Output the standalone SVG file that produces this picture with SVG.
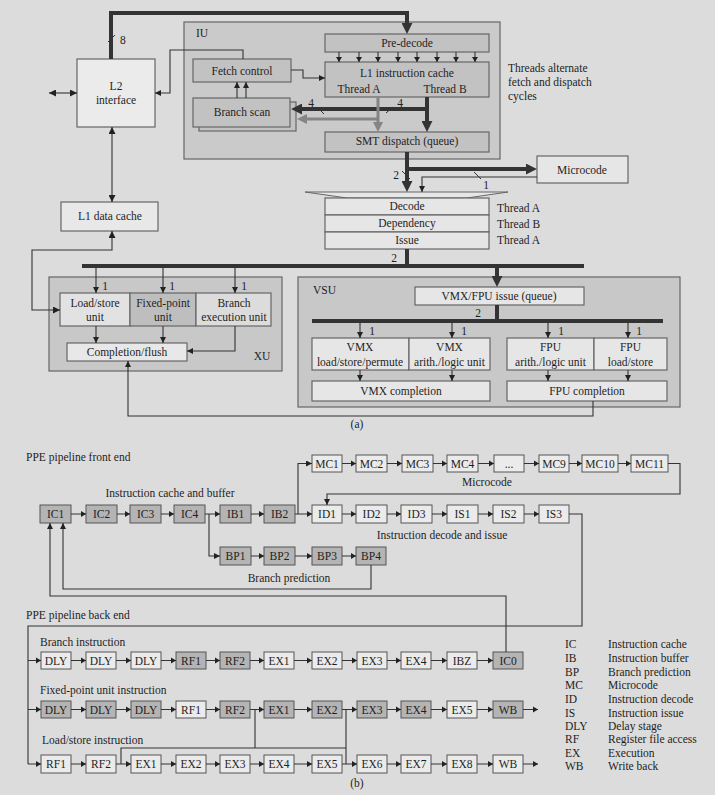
<svg xmlns="http://www.w3.org/2000/svg" width="715" height="795" viewBox="0 0 715 795" font-family="'Liberation Serif', 'DejaVu Serif', serif">
<style>
.t{font-family:'Liberation Serif','Times New Roman','DejaVu Serif',serif;font-size:11.5px;fill:#1e1e1e}
.m{text-anchor:middle}
.bx{stroke:#666;stroke-width:1.2}
.pb{stroke:#555;stroke-width:1}
.dk{fill:#b4b4b4}
.lt{fill:#ebebeb}
.ln{fill:none;stroke:#333;stroke-width:1.1}
.thk{fill:none;stroke:#333;stroke-width:4}
.gry{fill:none;stroke:#858585;stroke-width:3}
</style>
<defs>
<marker id="a" viewBox="0 0 10 10" refX="10" refY="5" markerWidth="6" markerHeight="6" markerUnits="userSpaceOnUse" orient="auto"><path d="M0,0 L10,5 L0,10 z" fill="#222"/></marker>
<marker id="a2" viewBox="0 0 10 10" refX="10" refY="5" markerWidth="7" markerHeight="7" markerUnits="userSpaceOnUse" orient="auto-start-reverse"><path d="M0,0 L10,5 L0,10 z" fill="#222"/></marker>
<marker id="at" viewBox="0 0 10 10" refX="1" refY="5" markerWidth="11" markerHeight="11" markerUnits="userSpaceOnUse" orient="auto"><path d="M0,0 L10,5 L0,10 z" fill="#333"/></marker>
<marker id="ag" viewBox="0 0 10 10" refX="1" refY="5" markerWidth="10" markerHeight="10" markerUnits="userSpaceOnUse" orient="auto"><path d="M0,0 L10,5 L0,10 z" fill="#858585"/></marker>
</defs>
<rect width="715" height="795" fill="#dcdcdc"/>

<!-- (a) nodes -->
<g id="n-iu"><rect x="184" y="22" width="316" height="137" fill="#cacaca" class="bx"/><text x="196" y="37" class="t">IU</text></g>
<g id="n-l2"><rect x="77" y="59" width="78" height="68" fill="#ebebeb" class="bx"/><text x="116" y="90" class="t m">L2</text><text x="116" y="104" class="t m">interface</text></g>
<g id="n-predecode"><rect x="325" y="34" width="164" height="18" fill="#c2c2c2" class="bx"/><text x="407" y="47" class="t m">Pre-decode</text></g>
<g id="n-l1ic"><rect x="325" y="62" width="164" height="35" fill="#c2c2c2" class="bx"/><text x="407" y="77" class="t m">L1 instruction cache</text><text x="359" y="93" class="t m">Thread A</text><text x="445" y="93" class="t m">Thread B</text></g>
<g id="n-fetch"><rect x="193" y="59" width="98" height="23" fill="#c2c2c2" class="bx"/><text x="242" y="75" class="t m">Fetch control</text></g>
<g id="n-bscan"><rect x="199" y="102" width="97" height="29" fill="#c2c2c2" class="bx"/><rect x="193" y="98" width="97" height="29" fill="#c2c2c2" class="bx"/><text x="242" y="116" class="t m">Branch scan</text></g>
<g id="n-smt"><rect x="325" y="132" width="164" height="20" fill="#c2c2c2" class="bx"/><text x="407" y="145" class="t m">SMT dispatch (queue)</text></g>
<g id="n-note"><text x="508" y="72" class="t">Threads alternate</text><text x="508" y="86" class="t">fetch and dispatch</text><text x="508" y="100" class="t">cycles</text></g>
<g id="n-micro"><rect x="537" y="156" width="91" height="27" fill="#e6e6e6" class="bx"/><text x="582" y="174" class="t m">Microcode</text></g>
<g id="n-decode">
<polygon points="305,192 508,192 467,198 347,198" fill="#e6e6e6" stroke="#666" stroke-width="1"/>
<rect x="325" y="198" width="164" height="17" fill="#e6e6e6" class="bx"/><text x="407" y="210" class="t m">Decode</text>
<rect x="325" y="215" width="164" height="17" fill="#e6e6e6" class="bx"/><text x="407" y="227" class="t m">Dependency</text>
<rect x="325" y="232" width="164" height="17" fill="#e6e6e6" class="bx"/><text x="407" y="244" class="t m">Issue</text>
<text x="497" y="212" class="t">Thread A</text><text x="497" y="228" class="t">Thread B</text><text x="497" y="244" class="t">Thread A</text>
</g>
<g id="n-l1dc"><rect x="61" y="202" width="97" height="29" fill="#e8e8e8" class="bx"/><text x="110" y="220" class="t m">L1 data cache</text></g>
<g id="n-xu"><rect x="49" y="277" width="233" height="94" fill="#c8c8c8" class="bx"/><text x="262" y="360" class="t m">XU</text></g>
<g id="n-ls"><rect x="60" y="293" width="70" height="33" fill="#e2e2e2" class="bx"/><text x="95" y="307" class="t m">Load/store</text><text x="95" y="321" class="t m">unit</text></g>
<g id="n-fxu"><rect x="130" y="293" width="66" height="33" fill="#bebebe" class="bx"/><text x="163" y="307" class="t m">Fixed-point</text><text x="163" y="321" class="t m">unit</text></g>
<g id="n-bru"><rect x="196" y="293" width="75" height="33" fill="#dcdcdc" class="bx"/><text x="234" y="307" class="t m">Branch</text><text x="234" y="321" class="t m">execution unit</text></g>
<g id="n-compl"><rect x="67" y="343" width="120" height="18" fill="#e8e8e8" class="bx"/><text x="127" y="356" class="t m">Completion/flush</text></g>
<g id="n-vsu"><rect x="298" y="277" width="382" height="130" fill="#c8c8c8" class="bx"/><text x="313" y="294" class="t">VSU</text></g>
<g id="n-vmxq"><rect x="415" y="287" width="169" height="18" fill="#e6e6e6" class="bx"/><text x="499" y="300" class="t m">VMX/FPU issue (queue)</text></g>
<g id="n-vmxls"><rect x="312" y="338" width="97" height="32" fill="#e6e6e6" class="bx"/><text x="360" y="351" class="t m">VMX</text><text x="360" y="366" class="t m">load/store/permute</text></g>
<g id="n-vmxalu"><rect x="409" y="338" width="81" height="32" fill="#e6e6e6" class="bx"/><text x="449.5" y="351" class="t m">VMX</text><text x="449.5" y="366" class="t m">arith./logic unit</text></g>
<g id="n-fpualu"><rect x="507" y="338" width="87" height="32" fill="#e6e6e6" class="bx"/><text x="550.5" y="351" class="t m">FPU</text><text x="550.5" y="366" class="t m">arith./logic unit</text></g>
<g id="n-fpuls"><rect x="594" y="338" width="73" height="32" fill="#e6e6e6" class="bx"/><text x="630.5" y="351" class="t m">FPU</text><text x="630.5" y="366" class="t m">load/store</text></g>
<g id="n-vmxc"><rect x="312" y="381" width="178" height="20" fill="#e6e6e6" class="bx"/><text x="401" y="395" class="t m">VMX completion</text></g>
<g id="n-fpuc"><rect x="507" y="381" width="160" height="20" fill="#e6e6e6" class="bx"/><text x="587" y="395" class="t m">FPU completion</text></g>
<text x="357" y="428" class="t m">(a)</text>

<!-- (a) connectors -->
<g id="connectors-a">
<path d="M111,59 V13 H407 V24" class="thk" marker-end="url(#at)"/>
<line x1="108" y1="42" x2="115" y2="35" stroke="#333" stroke-width="1"/>
<text x="120" y="44" class="t">8</text>
<path d="M49,93 H77" class="ln" marker-start="url(#a2)" marker-end="url(#a2)"/>
<path d="M112,127 V202" class="ln" marker-start="url(#a2)" marker-end="url(#a2)"/>
<path d="M243,59 V50 H170 V93 H155" class="ln" marker-end="url(#a)"/>
<path d="M291,70 H303 V78 H325" class="ln" marker-end="url(#a)"/>
<path d="M237,98 V82" class="ln" marker-end="url(#a)"/>
<path d="M246,98 V82" class="ln" marker-end="url(#a)"/>
<path d="M339,52 V62 M359,52 V62 M378,52 V62 M398,52 V62 M417,52 V62 M437,52 V62 M456,52 V62 M475,52 V62" class="ln"/>
<g fill="#222">
<path d="M336,57 L342,57 L339,62 z"/><path d="M356,57 L362,57 L359,62 z"/><path d="M375,57 L381,57 L378,62 z"/><path d="M395,57 L401,57 L398,62 z"/><path d="M414,57 L420,57 L417,62 z"/><path d="M434,57 L440,57 L437,62 z"/><path d="M453,57 L459,57 L456,62 z"/><path d="M472,57 L478,57 L475,62 z"/>
</g>
<path d="M427,109 H301" class="thk" marker-end="url(#at)"/>
<path d="M378,97 V123" class="gry" marker-end="url(#ag)"/>
<path d="M378,119 H306" class="gry" marker-end="url(#ag)"/>
<path d="M427,97 V122" class="thk" marker-end="url(#at)"/>
<line x1="318" y1="108" x2="324" y2="114" stroke="#333" stroke-width="1"/>
<text x="311" y="107" class="t m">4</text>
<line x1="386" y1="113" x2="393" y2="107" stroke="#333" stroke-width="1"/>
<text x="400" y="107" class="t m">4</text>
<path d="M407,152 V182" class="thk" marker-end="url(#at)"/>
<path d="M407,169 H527" class="thk" marker-end="url(#at)"/>
<line x1="402" y1="171" x2="410" y2="179" stroke="#333" stroke-width="1"/>
<text x="396" y="179" class="t m">2</text>
<path d="M537,177 H422 V192" class="ln" marker-end="url(#a)"/>
<line x1="474" y1="172" x2="481" y2="179" stroke="#333" stroke-width="1"/>
<text x="486" y="189" class="t m">1</text>
<path d="M407,249 V266" class="thk"/>
<text x="394" y="262" class="t m">2</text>
<path d="M82,266 H584" class="thk"/>
<path d="M96,266 V293" class="ln" marker-end="url(#a)"/>
<path d="M163,266 V293" class="ln" marker-end="url(#a)"/>
<path d="M235,266 V293" class="ln" marker-end="url(#a)"/>
<text x="105" y="290" class="t m">1</text><text x="172" y="290" class="t m">1</text><text x="244" y="290" class="t m">1</text>
<path d="M497,266 V277" class="thk" marker-end="url(#at)"/>
<path d="M112,231 V250 H32 V310 H60" class="ln" marker-start="url(#a2)" marker-end="url(#a2)"/>
<path d="M96,326 V343" class="ln" marker-end="url(#a)"/>
<path d="M163,326 V343" class="ln" marker-end="url(#a)"/>
<path d="M235,326 V351 H187" class="ln" marker-end="url(#a)"/>
<path d="M497,305 V321" class="thk"/>
<text x="478" y="317" class="t m">2</text>
<path d="M312,321 H663" class="thk"/>
<path d="M360,321 V338" class="ln" marker-end="url(#a)"/>
<path d="M452,321 V338" class="ln" marker-end="url(#a)"/>
<path d="M548,321 V338" class="ln" marker-end="url(#a)"/>
<path d="M628,321 V338" class="ln" marker-end="url(#a)"/>
<text x="372" y="335" class="t m">1</text><text x="464" y="335" class="t m">1</text><text x="561" y="335" class="t m">1</text><text x="639" y="335" class="t m">1</text>
<path d="M360,370 V381" class="ln" marker-end="url(#a)"/>
<path d="M452,370 V381" class="ln" marker-end="url(#a)"/>
<path d="M548,370 V381" class="ln" marker-end="url(#a)"/>
<path d="M628,370 V381" class="ln" marker-end="url(#a)"/>
<path d="M593,401 V416 H128 V361" class="ln" marker-end="url(#a)"/>
</g>

<!-- (b) front end -->
<text x="26" y="461" class="t">PPE pipeline front end</text>
<text x="170" y="497" class="t m">Instruction cache and buffer</text>
<text x="487" y="486" class="t m">Microcode</text>
<text x="442" y="539" class="t m">Instruction decode and issue</text>
<text x="289" y="582" class="t m">Branch prediction</text>

<g id="p-ic1"><rect x="40" y="505" width="31" height="18" class="pb dk"/><text x="55.5" y="518" class="t m">IC1</text></g>
<g id="p-ic2"><rect x="86" y="505" width="31" height="18" class="pb dk"/><text x="101.5" y="518" class="t m">IC2</text></g>
<g id="p-ic3"><rect x="130" y="505" width="31" height="18" class="pb dk"/><text x="145.5" y="518" class="t m">IC3</text></g>
<g id="p-ic4"><rect x="174" y="505" width="31" height="18" class="pb dk"/><text x="189.5" y="518" class="t m">IC4</text></g>
<g id="p-ib1"><rect x="220" y="505" width="31" height="18" class="pb dk"/><text x="235.5" y="518" class="t m">IB1</text></g>
<g id="p-ib2"><rect x="264" y="505" width="31" height="18" class="pb dk"/><text x="279.5" y="518" class="t m">IB2</text></g>
<g id="p-id1"><rect x="312" y="505" width="30" height="18" class="pb lt"/><text x="327" y="518" class="t m">ID1</text></g>
<g id="p-id2"><rect x="356" y="505" width="31" height="18" class="pb lt"/><text x="371.5" y="518" class="t m">ID2</text></g>
<g id="p-id3"><rect x="401" y="505" width="31" height="18" class="pb lt"/><text x="416.5" y="518" class="t m">ID3</text></g>
<g id="p-is1"><rect x="447" y="505" width="31" height="18" class="pb lt"/><text x="462.5" y="518" class="t m">IS1</text></g>
<g id="p-is2"><rect x="493" y="505" width="31" height="18" class="pb lt"/><text x="508.5" y="518" class="t m">IS2</text></g>
<g id="p-is3"><rect x="539" y="505" width="30" height="18" class="pb lt"/><text x="554" y="518" class="t m">IS3</text></g>

<g id="p-mc1"><rect x="312" y="455" width="30" height="17" class="pb lt"/><text x="327" y="467.5" class="t m">MC1</text></g>
<g id="p-mc2"><rect x="356" y="455" width="31" height="17" class="pb lt"/><text x="371.5" y="467.5" class="t m">MC2</text></g>
<g id="p-mc3"><rect x="402" y="455" width="31" height="17" class="pb lt"/><text x="417.5" y="467.5" class="t m">MC3</text></g>
<g id="p-mc4"><rect x="447" y="455" width="31" height="17" class="pb lt"/><text x="462.5" y="467.5" class="t m">MC4</text></g>
<g id="p-mcx"><rect x="494" y="455" width="30" height="17" class="pb lt"/><text x="509" y="467.5" class="t m">...</text></g>
<g id="p-mc9"><rect x="539" y="455" width="30" height="17" class="pb lt"/><text x="554" y="467.5" class="t m">MC9</text></g>
<g id="p-mc10"><rect x="582" y="455" width="36" height="17" class="pb lt"/><text x="600" y="467.5" class="t m">MC10</text></g>
<g id="p-mc11"><rect x="631" y="455" width="37" height="17" class="pb lt"/><text x="649.5" y="467.5" class="t m">MC11</text></g>

<g id="p-bp1"><rect x="220" y="547" width="31" height="18" class="pb dk"/><text x="235.5" y="560" class="t m">BP1</text></g>
<g id="p-bp2"><rect x="264" y="547" width="31" height="18" class="pb dk"/><text x="279.5" y="560" class="t m">BP2</text></g>
<g id="p-bp3"><rect x="312" y="547" width="30" height="18" class="pb dk"/><text x="327" y="560" class="t m">BP3</text></g>
<g id="p-bp4"><rect x="356" y="547" width="30" height="18" class="pb dk"/><text x="371" y="560" class="t m">BP4</text></g>

<!-- (b) back end -->
<text x="26" y="619" class="t">PPE pipeline back end</text>
<text x="40" y="646" class="t">Branch instruction</text>
<text x="40" y="694" class="t">Fixed-point unit instruction</text>
<text x="42" y="744" class="t">Load/store instruction</text>

<g id="p-r1-1"><rect x="41" y="652" width="30" height="17" class="pb lt"/><text x="56" y="665" class="t m">DLY</text></g>
<g id="p-r1-2"><rect x="86" y="652" width="30" height="17" class="pb lt"/><text x="101" y="665" class="t m">DLY</text></g>
<g id="p-r1-3"><rect x="131" y="652" width="30" height="17" class="pb lt"/><text x="146" y="665" class="t m">DLY</text></g>
<g id="p-r1-4"><rect x="176" y="652" width="30" height="17" class="pb dk"/><text x="191" y="665" class="t m">RF1</text></g>
<g id="p-r1-5"><rect x="220" y="652" width="30" height="17" class="pb dk"/><text x="235" y="665" class="t m">RF2</text></g>
<g id="p-r1-6"><rect x="264" y="652" width="30" height="17" class="pb lt"/><text x="279" y="665" class="t m">EX1</text></g>
<g id="p-r1-7"><rect x="312" y="652" width="30" height="17" class="pb lt"/><text x="327" y="665" class="t m">EX2</text></g>
<g id="p-r1-8"><rect x="357" y="652" width="30" height="17" class="pb lt"/><text x="372" y="665" class="t m">EX3</text></g>
<g id="p-r1-9"><rect x="401" y="652" width="30" height="17" class="pb lt"/><text x="416" y="665" class="t m">EX4</text></g>
<g id="p-r1-10"><rect x="447" y="652" width="30" height="17" class="pb lt"/><text x="462" y="665" class="t m">IBZ</text></g>
<g id="p-r1-11"><rect x="493" y="652" width="30" height="17" class="pb dk"/><text x="508" y="665" class="t m">IC0</text></g>

<g id="p-r2-1"><rect x="41" y="701" width="30" height="17" class="pb dk"/><text x="56" y="713.5" class="t m">DLY</text></g>
<g id="p-r2-2"><rect x="86" y="701" width="30" height="17" class="pb dk"/><text x="101" y="713.5" class="t m">DLY</text></g>
<g id="p-r2-3"><rect x="131" y="701" width="30" height="17" class="pb dk"/><text x="146" y="713.5" class="t m">DLY</text></g>
<g id="p-r2-4"><rect x="176" y="701" width="30" height="17" class="pb lt"/><text x="191" y="713.5" class="t m">RF1</text></g>
<g id="p-r2-5"><rect x="220" y="701" width="30" height="17" class="pb dk"/><text x="235" y="713.5" class="t m">RF2</text></g>
<g id="p-r2-6"><rect x="264" y="701" width="30" height="17" class="pb dk"/><text x="279" y="713.5" class="t m">EX1</text></g>
<g id="p-r2-7"><rect x="312" y="701" width="30" height="17" class="pb dk"/><text x="327" y="713.5" class="t m">EX2</text></g>
<g id="p-r2-8"><rect x="357" y="701" width="30" height="17" class="pb dk"/><text x="372" y="713.5" class="t m">EX3</text></g>
<g id="p-r2-9"><rect x="401" y="701" width="30" height="17" class="pb dk"/><text x="416" y="713.5" class="t m">EX4</text></g>
<g id="p-r2-10"><rect x="447" y="701" width="30" height="17" class="pb lt"/><text x="462" y="713.5" class="t m">EX5</text></g>
<g id="p-r2-11"><rect x="493" y="701" width="30" height="17" class="pb dk"/><text x="508" y="713.5" class="t m">WB</text></g>

<g id="p-r3-1"><rect x="41" y="755" width="30" height="18" class="pb lt"/><text x="56" y="768" class="t m">RF1</text></g>
<g id="p-r3-2"><rect x="86" y="755" width="30" height="18" class="pb lt"/><text x="101" y="768" class="t m">RF2</text></g>
<g id="p-r3-3"><rect x="131" y="755" width="30" height="18" class="pb lt"/><text x="146" y="768" class="t m">EX1</text></g>
<g id="p-r3-4"><rect x="176" y="755" width="30" height="18" class="pb lt"/><text x="191" y="768" class="t m">EX2</text></g>
<g id="p-r3-5"><rect x="220" y="755" width="30" height="18" class="pb lt"/><text x="235" y="768" class="t m">EX3</text></g>
<g id="p-r3-6"><rect x="264" y="755" width="30" height="18" class="pb lt"/><text x="279" y="768" class="t m">EX4</text></g>
<g id="p-r3-7"><rect x="312" y="755" width="30" height="18" class="pb lt"/><text x="327" y="768" class="t m">EX5</text></g>
<g id="p-r3-8"><rect x="357" y="755" width="30" height="18" class="pb lt"/><text x="372" y="768" class="t m">EX6</text></g>
<g id="p-r3-9"><rect x="401" y="755" width="30" height="18" class="pb lt"/><text x="416" y="768" class="t m">EX7</text></g>
<g id="p-r3-10"><rect x="447" y="755" width="30" height="18" class="pb lt"/><text x="462" y="768" class="t m">EX8</text></g>
<g id="p-r3-11"><rect x="493" y="755" width="30" height="18" class="pb lt"/><text x="508" y="768" class="t m">WB</text></g>
<text x="357" y="787" class="t m">(b)</text>

<g id="legend">
<text x="565" y="648" class="t">IC</text><text x="608" y="648" class="t">Instruction cache</text>
<text x="565" y="662" class="t">IB</text><text x="608" y="662" class="t">Instruction buffer</text>
<text x="565" y="676" class="t">BP</text><text x="608" y="676" class="t">Branch prediction</text>
<text x="565" y="689" class="t">MC</text><text x="608" y="689" class="t">Microcode</text>
<text x="565" y="703" class="t">ID</text><text x="608" y="703" class="t">Instruction decode</text>
<text x="565" y="717" class="t">IS</text><text x="608" y="717" class="t">Instruction issue</text>
<text x="565" y="730" class="t">DLY</text><text x="608" y="730" class="t">Delay stage</text>
<text x="565" y="743" class="t">RF</text><text x="608" y="743" class="t">Register file access</text>
<text x="565" y="757" class="t">EX</text><text x="608" y="757" class="t">Execution</text>
<text x="565" y="770" class="t">WB</text><text x="608" y="770" class="t">Write back</text>
</g>

<!-- (b) connectors -->
<g id="connectors-b">
<path d="M71,514 H86 M117,514 H130 M161,514 H174 M205,514 H220 M251,514 H264 M295,514 H312 M342,514 H356 M387,514 H401 M432,514 H447 M478,514 H493 M524,514 H539" class="ln"/>
<path d="M298,514 V463.5 H312" class="ln" marker-end="url(#a)"/>
<path d="M209,514 V556 H220" class="ln" marker-end="url(#a)"/>
<path d="M342,463.5 H356 M387,463.5 H402 M433,463.5 H447 M478,463.5 H494 M524,463.5 H539 M569,463.5 H582 M618,463.5 H631 M251,556 H264 M295,556 H312 M342,556 H356" class="ln"/>
<g fill="#222">
<path d="M81,511 L86,514 L81,517 z"/><path d="M125,511 L130,514 L125,517 z"/><path d="M169,511 L174,514 L169,517 z"/><path d="M215,511 L220,514 L215,517 z"/><path d="M259,511 L264,514 L259,517 z"/><path d="M307,511 L312,514 L307,517 z"/><path d="M351,511 L356,514 L351,517 z"/><path d="M396,511 L401,514 L396,517 z"/><path d="M442,511 L447,514 L442,517 z"/><path d="M488,511 L493,514 L488,517 z"/><path d="M534,511 L539,514 L534,517 z"/>
<path d="M351,460.5 L356,463.5 L351,466.5 z"/><path d="M397,460.5 L402,463.5 L397,466.5 z"/><path d="M442,460.5 L447,463.5 L442,466.5 z"/><path d="M489,460.5 L494,463.5 L489,466.5 z"/><path d="M534,460.5 L539,463.5 L534,466.5 z"/><path d="M577,460.5 L582,463.5 L577,466.5 z"/><path d="M626,460.5 L631,463.5 L626,466.5 z"/>
<path d="M259,553 L264,556 L259,559 z"/><path d="M307,553 L312,556 L307,559 z"/><path d="M351,553 L356,556 L351,559 z"/>
</g>
<path d="M668,463.5 H680 V494 H327 V505" class="ln" marker-end="url(#a)"/>
<path d="M371,565 V589 H63 V523" class="ln" marker-end="url(#a)"/>
<path d="M506,652 V596 H50 V523" class="ln" marker-end="url(#a)"/>
<path d="M569,514 H582 V626 H28 V764" class="ln"/>
<path d="M28,660.5 H41 M28,709.5 H41 M28,764 H41" class="ln"/>
<path d="M71,660.5 H86 M116,660.5 H131 M161,660.5 H176 M206,660.5 H220 M250,660.5 H264 M294,660.5 H312 M342,660.5 H357 M387,660.5 H401 M431,660.5 H447 M477,660.5 H493" class="ln"/>
<path d="M71,709.5 H86 M116,709.5 H131 M161,709.5 H176 M206,709.5 H220 M250,709.5 H264 M294,709.5 H312 M342,709.5 H357 M387,709.5 H401 M431,709.5 H447 M477,709.5 H493 M523,709.5 H538" class="ln"/>
<path d="M71,764 H86 M116,764 H131 M161,764 H176 M206,764 H220 M250,764 H264 M294,764 H312 M342,764 H357 M387,764 H401 M431,764 H447 M477,764 H493 M523,764 H538" class="ln"/>
<path d="M255,709.5 V748 M121,764 V748 H346 M346,709.5 V764" class="ln"/>
<g fill="#222">
<path d="M36,657.5 L41,660.5 L36,663.5 z"/><path d="M81,657.5 L86,660.5 L81,663.5 z"/><path d="M126,657.5 L131,660.5 L126,663.5 z"/><path d="M171,657.5 L176,660.5 L171,663.5 z"/><path d="M215,657.5 L220,660.5 L215,663.5 z"/><path d="M259,657.5 L264,660.5 L259,663.5 z"/><path d="M307,657.5 L312,660.5 L307,663.5 z"/><path d="M352,657.5 L357,660.5 L352,663.5 z"/><path d="M396,657.5 L401,660.5 L396,663.5 z"/><path d="M442,657.5 L447,660.5 L442,663.5 z"/><path d="M488,657.5 L493,660.5 L488,663.5 z"/>
<path d="M36,706.5 L41,709.5 L36,712.5 z"/><path d="M81,706.5 L86,709.5 L81,712.5 z"/><path d="M126,706.5 L131,709.5 L126,712.5 z"/><path d="M171,706.5 L176,709.5 L171,712.5 z"/><path d="M215,706.5 L220,709.5 L215,712.5 z"/><path d="M259,706.5 L264,709.5 L259,712.5 z"/><path d="M307,706.5 L312,709.5 L307,712.5 z"/><path d="M352,706.5 L357,709.5 L352,712.5 z"/><path d="M396,706.5 L401,709.5 L396,712.5 z"/><path d="M442,706.5 L447,709.5 L442,712.5 z"/><path d="M488,706.5 L493,709.5 L488,712.5 z"/><path d="M533,706.5 L538,709.5 L533,712.5 z"/>
<path d="M36,761 L41,764 L36,767 z"/><path d="M81,761 L86,764 L81,767 z"/><path d="M126,761 L131,764 L126,767 z"/><path d="M171,761 L176,764 L171,767 z"/><path d="M215,761 L220,764 L215,767 z"/><path d="M259,761 L264,764 L259,767 z"/><path d="M307,761 L312,764 L307,767 z"/><path d="M352,761 L357,764 L352,767 z"/><path d="M396,761 L401,764 L396,767 z"/><path d="M442,761 L447,764 L442,767 z"/><path d="M488,761 L493,764 L488,767 z"/><path d="M533,761 L538,764 L533,767 z"/>
</g>
</g>
</svg>
